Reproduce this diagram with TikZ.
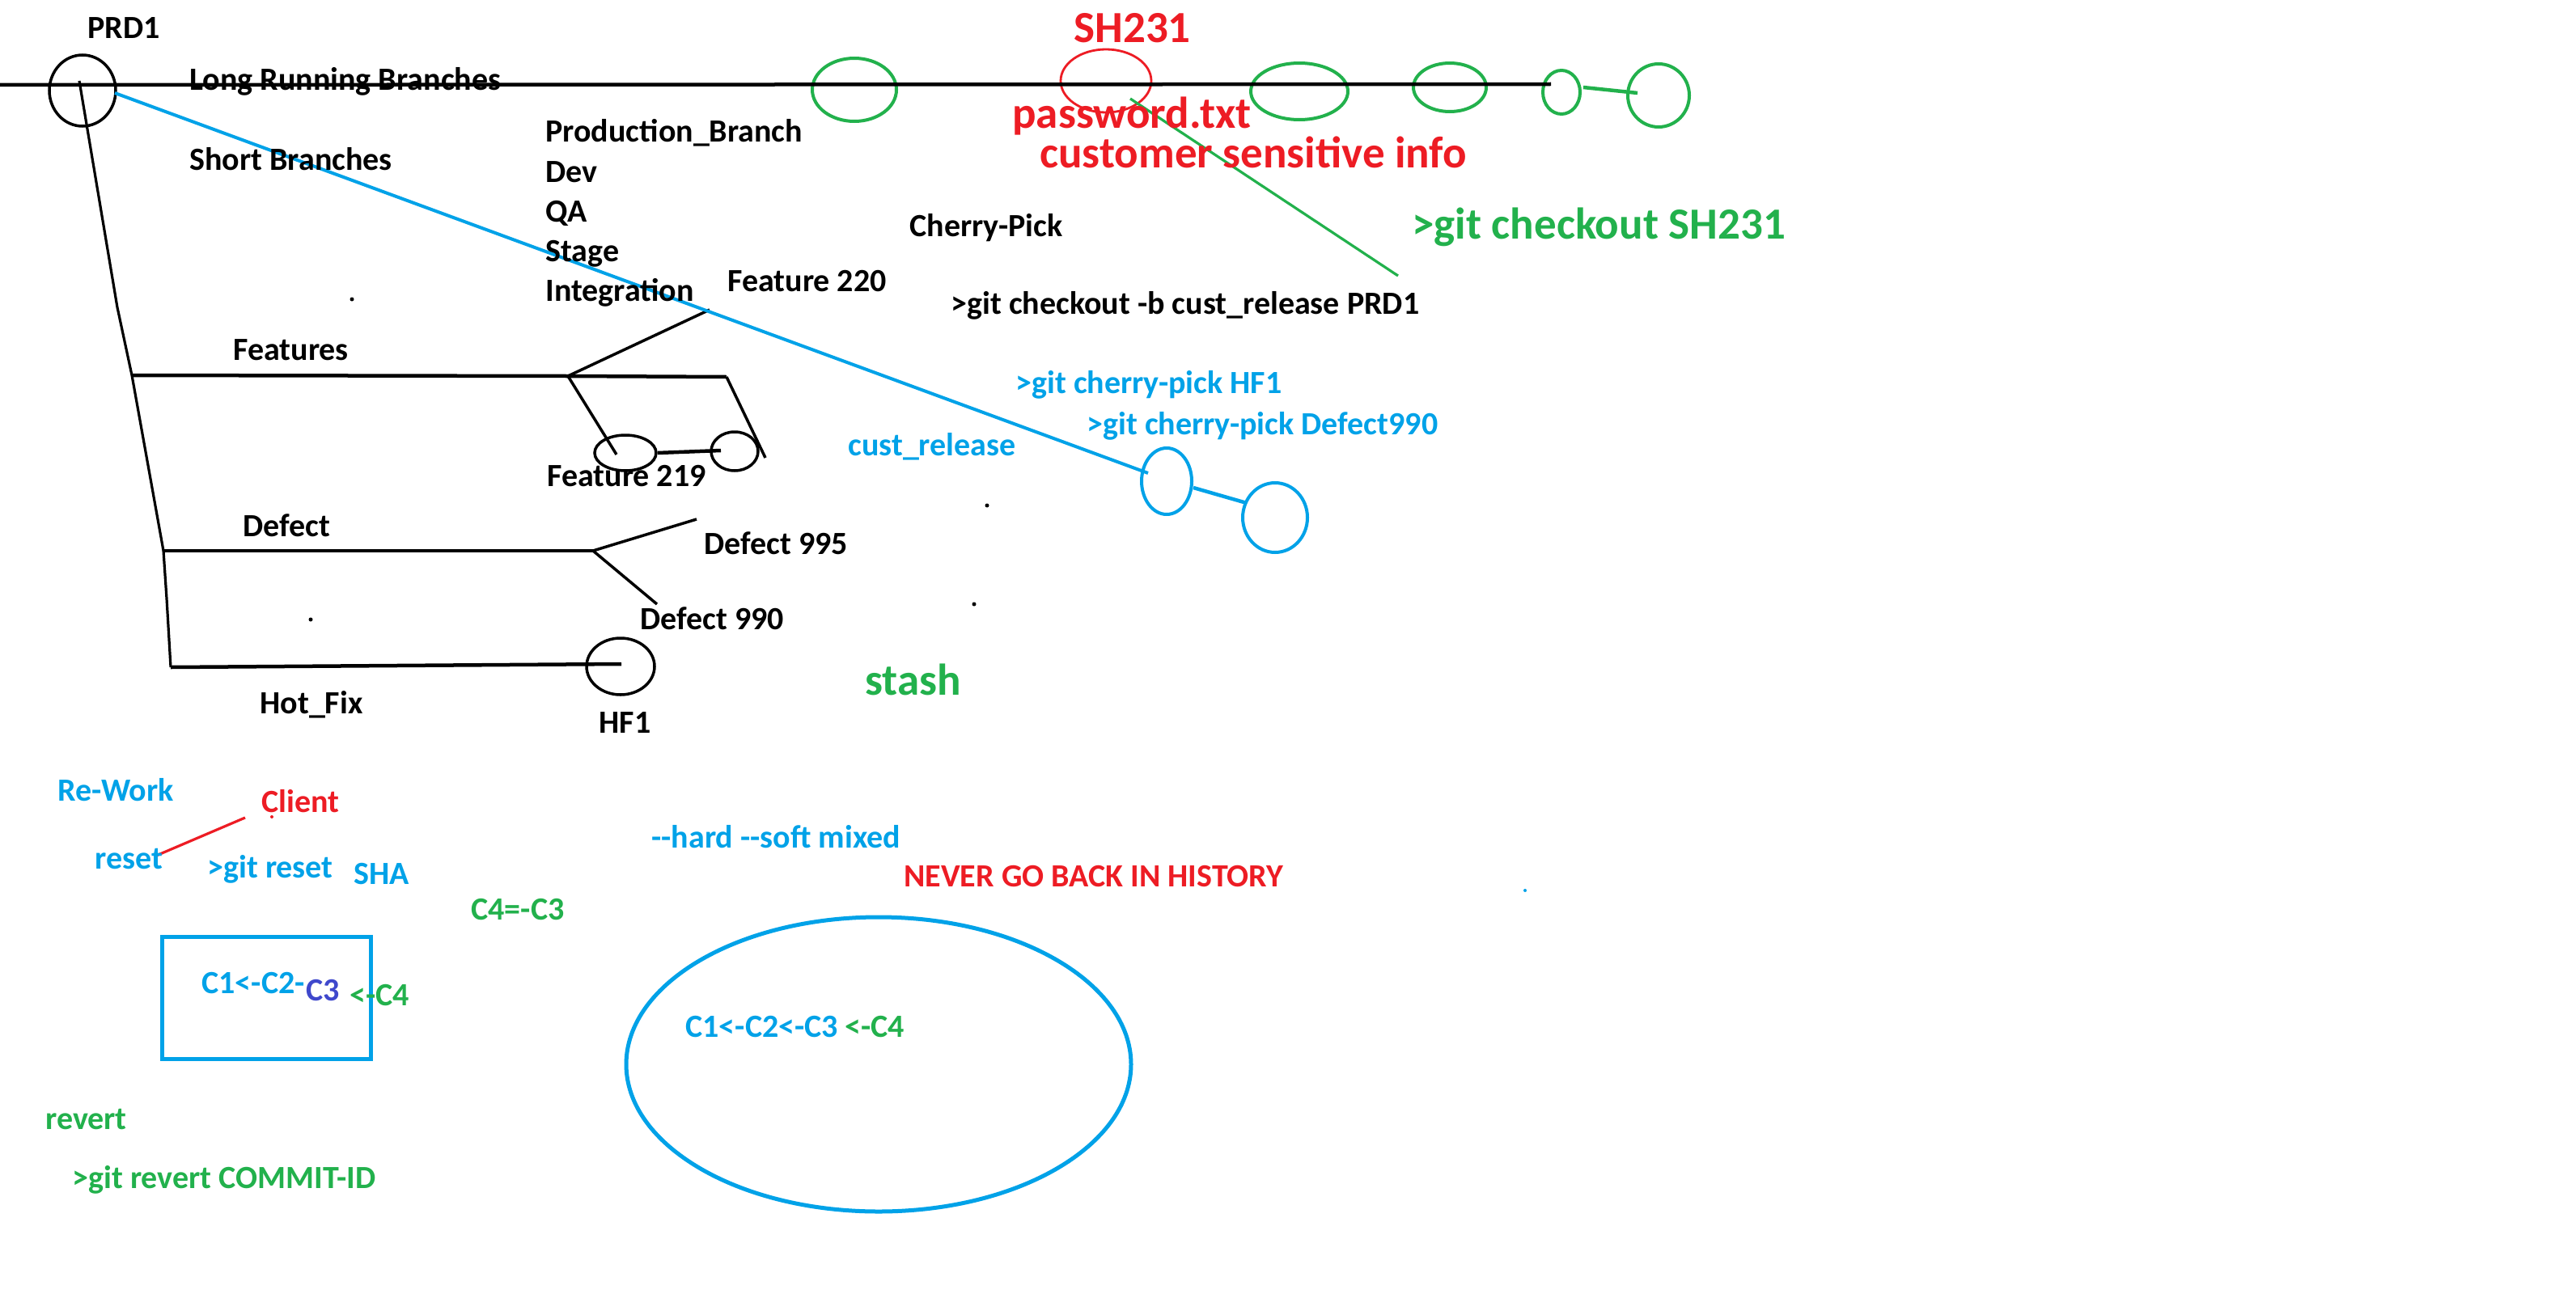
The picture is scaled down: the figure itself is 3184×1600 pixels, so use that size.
\documentclass[tikz,border=0pt]{standalone}
\usepackage{fontspec}
\setmainfont{Carlito}
\usetikzlibrary{shapes.geometric}
\definecolor{pred}{RGB}{237,28,36}
\definecolor{pgreen}{RGB}{34,177,76}
\definecolor{pblue}{RGB}{0,162,232}
\definecolor{pindigo}{RGB}{63,72,204}
\begin{document}
\begin{tikzpicture}[x=0.5pt,y=-0.5pt,
  txt/.style={anchor=base west, inner sep=0, font=\bfseries\fontsize{20}{24}\selectfont},
  big/.style={anchor=base west, inner sep=0, font=\bfseries\fontsize{27.5}{33}\selectfont},
  commit/.style={ellipse, draw, inner sep=0, line width=1.75pt},
  gcommit/.style={commit, draw=pgreen, line width=2pt},
  bcommit/.style={commit, draw=pblue, line width=2pt},
  blk/.style={line width=2.25pt, black},
  thinblk/.style={line width=1.75pt, black},
  dotmark/.style={circle, fill, inner sep=0, minimum size=2.5pt}]
\fill[white] (0,0) rectangle (3184,1600);
\useasboundingbox (0,0) rectangle (3184,1600);

% ---------- commits ----------
\node[commit, minimum width=41pt, minimum height=44pt] (prd) at (102,112) {};
\node[gcommit, minimum width=52pt, minimum height=39pt] (g1) at (1056,111) {};
\node[commit, draw=pred, line width=1.4pt, minimum width=56pt, minimum height=39pt] (sh) at (1367,100) {};
\node[gcommit, minimum width=60pt, minimum height=35pt] (g2) at (1606,113) {};
\node[gcommit, minimum width=45pt, minimum height=30pt] (g3) at (1792,108) {};
\node[gcommit, minimum width=23pt, minimum height=27pt] (g4) at (1930,114) {};
\node[gcommit, minimum width=38pt, minimum height=39pt] (g5) at (2050,118) {};
\node[bcommit, minimum width=31pt, minimum height=41pt] (b1) at (1442,595) {};
\node[bcommit, minimum width=40pt, minimum height=43pt] (b2) at (1576,640) {};
\node[commit, minimum width=38pt, minimum height=22pt] (f1) at (773,560) {};
\node[commit, minimum width=29pt, minimum height=24pt] (f2) at (908,558) {};
\node[commit, minimum width=42pt, minimum height=35pt] (hf) at (767,824) {};
\node[ellipse, draw=pblue, line width=2.5pt, inner sep=0, minimum width=312pt, minimum height=182pt] (hist) at (1086,1316) {};
\node[draw=pblue, line width=2.5pt, inner sep=0, minimum width=129pt, minimum height=75.5pt] (box) at (329,1233.5) {};

% ---------- coordinates ----------
\coordinate (mainL) at (0,105);
\coordinate (mainR) at (1917,104);
\coordinate (blueS) at (142,115);
\coordinate (blueE) at (1419,585);
\coordinate (t0) at (98,100);
\coordinate (t1) at (145,380);
\coordinate (featL) at (163,464);
\coordinate (defL) at (202,681);
\coordinate (t2) at (206,740);
\coordinate (hotL) at (211,825);
\coordinate (fj) at (702,465);
\coordinate (featR) at (898,466);
\coordinate (f220) at (877,383);
\coordinate (f1c) at (762,562);
\coordinate (f2r) at (946,566);
\coordinate (dj) at (733,681);
\coordinate (d995) at (861,642);
\coordinate (d990) at (812,747);
\coordinate (hfc) at (768,821);
\coordinate (shg) at (1397,122);
\coordinate (shgE) at (1728,341);
\coordinate (g45a) at (1957,108);
\coordinate (g45b) at (2024,115);
\coordinate (b12a) at (1475,603);
\coordinate (b12b) at (1541,622);
\coordinate (f12a) at (813,560);
\coordinate (f12b) at (891,557);
\coordinate (rsA) at (193,1058);
\coordinate (rsB) at (303,1011);

% ---------- connectors ----------
\draw[blk] (mainL) -- (mainR);
\draw[line width=1.6pt] (t0) -- (t1) -- (featL) -- (defL) -- (t2) -- (hotL);
\draw[blk] (featL) -- (fj) -- (featR);
\draw[thinblk] (fj) -- (f220);
\draw[thinblk] (fj) -- (f1c);
\draw[thinblk] (featR) -- (f2r);
\draw[blk] (f12a) -- (f12b);
\draw[blk] (defL) -- (dj);
\draw[thinblk] (dj) -- (d995);
\draw[thinblk] (dj) -- (d990);
\draw[blk] (hotL) -- (hfc);
\draw[pblue, line width=2pt] (blueS) -- (blueE);
\draw[pblue, line width=2.25pt] (b12a) -- (b12b);
\draw[pgreen, line width=1.6pt] (shg) -- (shgE);
\draw[pgreen, line width=2.25pt] (g45a) -- (g45b);
\draw[pred, line width=1.6pt] (rsA) -- (rsB);

% ---------- dots ----------
\node[dotmark] (dot1) at (435,370) {};
\node[dotmark] (dot2) at (384,766) {};
\node[dotmark] (dot3) at (1220,625) {};
\node[dotmark] (dot4) at (1204,747) {};
\node[dotmark, pblue, minimum size=2pt] (dot5) at (1885,1101) {};
\node[dotmark, pred, minimum size=2pt] (dot6) at (336,1010) {};

% ---------- black labels ----------
\node[txt] (lprd) at (108,48) {PRD1};
\node[txt] (llong) at (234,112) {Long Running Branches};
\node[txt] (lshort) at (234,210) {Short Branches};
\node[txt] (lprod) at (674,176) {Production\_Branch};
\node[txt] (ldev) at (674,225) {Dev};
\node[txt] (lqa) at (674,274) {QA};
\node[txt] (lstage) at (674,323) {Stage};
\node[txt] (lint) at (674,372) {Integration};
\node[txt] (lf220) at (899,360) {Feature 220};
\node[txt] (lcp) at (1124,292) {Cherry-Pick};
\node[txt] (lco) at (1175,388) {>git checkout -b cust\_release PRD1};
\node[txt] (lfeat) at (288,445) {Features};
\node[txt] (lf219) at (676,601) {Feature 219};
\node[txt] (ldef) at (300,663) {Defect};
\node[txt] (ld995) at (870,685) {Defect 995};
\node[txt] (ld990) at (791,778) {Defect 990};
\node[txt] (lhot) at (321,882) {Hot\_Fix};
\node[txt] (lhf1) at (740,906) {HF1};

% ---------- red labels ----------
\node[big, pred] (lsh) at (1327,53) {SH231};
\node[big, pred] (lpw) at (1251,158) {password.txt};
\node[big, pred] (lcust) at (1285,207) {customer sensitive info};
\node[txt, pred] (lnever) at (1117,1096) {NEVER GO BACK IN HISTORY};
\node[txt, pred] (lclient) at (323,1004) {Client};

% ---------- green labels ----------
\node[big, pgreen] (lgco) at (1745,295) {>git checkout SH231};
\node[big, pgreen] (lstash) at (1069,859) {stash};
\node[txt, pgreen] (lc4c3) at (582,1137) {C4=-C3};
\node[txt, pgreen] (lrevert) at (56,1396) {revert};
\node[txt, pgreen] (lgrev) at (89,1469) {>git revert COMMIT-ID};

% ---------- blue labels ----------
\node[txt, pblue] (lcp1) at (1255,486) {>git cherry-pick HF1};
\node[txt, pblue] (lcp2) at (1343,537) {>git cherry-pick Defect990};
\node[txt, pblue] (lrel) at (1048,563) {cust\_release};
\node[txt, pblue] (lrw) at (71,990) {Re-Work};
\node[txt, pblue] (lreset) at (117,1074) {reset};
\node[txt, pblue] (lgr) at (256,1085) {>git reset};
\node[txt, pblue] (lsha) at (437,1093) {SHA};
\node[txt, pblue] (lmodes) at (805,1048) {-{}-hard -{}-soft mixed};

% ---------- commit chains ----------
\node[txt, pblue] (bc1) at (249,1228) {C1<-C2-};
\node[txt, pindigo] (bc2) at (378,1237) {C3};
\node[txt, pgreen] (bc3) at (432,1243) {<-C4};
\node[txt, pblue] (ec1) at (847,1282) {C1<-C2<-C3};
\node[txt, pgreen] (ec2) at (1044,1282) {<-C4};
\end{tikzpicture}
\end{document}
